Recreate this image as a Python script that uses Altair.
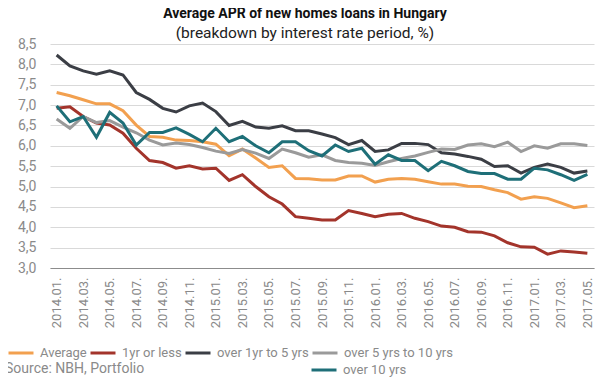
import altair as alt
import pandas as pd

months = [
    "2014.01.", "2014.02.", "2014.03.", "2014.04.", "2014.05.", "2014.06.",
    "2014.07.", "2014.08.", "2014.09.", "2014.10.", "2014.11.", "2014.12.",
    "2015.01.", "2015.02.", "2015.03.", "2015.04.", "2015.05.", "2015.06.",
    "2015.07.", "2015.08.", "2015.09.", "2015.10.", "2015.11.", "2015.12.",
    "2016.01.", "2016.02.", "2016.03.", "2016.04.", "2016.05.", "2016.06.",
    "2016.07.", "2016.08.", "2016.09.", "2016.10.", "2016.11.", "2016.12.",
    "2017.01.", "2017.02.", "2017.03.", "2017.04.", "2017.05.",
]
tick_months = months[::2]
y_ticks = [3.0, 3.5, 4.0, 4.5, 5.0, 5.5, 6.0, 6.5, 7.0, 7.5, 8.0, 8.5]

average = [7.31, 7.23, 7.13, 7.03, 7.03, 6.86, 6.51, 6.23, 6.21, 6.14, 6.13, 6.10,
           6.04, 5.76, 5.92, 5.70, 5.47, 5.51, 5.20, 5.19, 5.16, 5.16, 5.26, 5.26,
           5.11, 5.18, 5.20, 5.18, 5.12, 5.06, 5.06, 5.01, 5.00, 4.92, 4.85, 4.69,
           4.75, 4.71, 4.60, 4.48, 4.53]
upto1 = [6.92, 6.96, 6.72, 6.56, 6.51, 6.31, 5.94, 5.64, 5.59, 5.45, 5.51, 5.43,
         5.45, 5.15, 5.29, 5.00, 4.75, 4.57, 4.26, 4.22, 4.18, 4.18, 4.41, 4.34,
         4.26, 4.32, 4.34, 4.22, 4.14, 4.03, 4.00, 3.89, 3.88, 3.79, 3.62, 3.52,
         3.51, 3.34, 3.42, 3.39, 3.36]
y1to5 = [8.23, 7.96, 7.84, 7.76, 7.84, 7.74, 7.31, 7.14, 6.92, 6.83, 6.98, 7.05,
         6.84, 6.50, 6.60, 6.46, 6.43, 6.49, 6.37, 6.37, 6.29, 6.20, 6.03, 6.13,
         5.86, 5.90, 6.06, 6.06, 6.03, 5.83, 5.80, 5.74, 5.67, 5.49, 5.51, 5.33,
         5.47, 5.55, 5.47, 5.33, 5.38]
y5to10 = [6.66, 6.43, 6.72, 6.57, 6.62, 6.46, 6.32, 6.14, 6.02, 6.07, 6.03, 5.96,
          5.87, 5.81, 5.91, 5.82, 5.69, 5.92, 5.83, 5.72, 5.78, 5.64, 5.59, 5.57,
          5.52, 5.61, 5.69, 5.75, 5.84, 5.92, 5.91, 6.02, 6.05, 5.98, 6.09, 5.86,
          6.00, 5.94, 6.05, 6.05, 6.01]
over10 = [6.98, 6.59, 6.72, 6.21, 6.82, 6.56, 6.02, 6.33, 6.33, 6.44, 6.28, 6.10,
          6.43, 6.10, 6.23, 6.00, 5.83, 6.10, 6.10, 5.88, 5.75, 6.02, 5.86, 5.94,
          5.55, 5.78, 5.64, 5.64, 5.39, 5.62, 5.51, 5.37, 5.32, 5.32, 5.18, 5.18,
          5.45, 5.41, 5.29, 5.15, 5.30]

names_main = ["Average", "1yr or less", "over 1yr to 5 yrs", "over 5 yrs to 10 yrs"]
colors_main = ["#f2a04f", "#a3342b", "#3b3e45", "#9a9a9a"]
name_last = "over 10 yrs"
color_last = "#1e6f78"

rows = []
for name, vals in zip(names_main, [average, upto1, y1to5, y5to10]):
    for m, v in zip(months, vals):
        rows.append({"month": m, "value": v, "series": name})
df_main = pd.DataFrame(rows)
df_last = pd.DataFrame({"month": months, "value": over10, "series": name_last})

FONT = "Roboto"
GRAY = "#8a8a8a"

x_enc = alt.X("month:O", sort=months, title=None,
              axis=alt.Axis(values=tick_months, labelAngle=-90, labelFontSize=13,
                            labelColor=GRAY, labelFont=FONT, ticks=False,
                            domainColor="#8c8c8c", domainWidth=1.2, labelPadding=9,
                            grid=False))
y_enc = alt.Y("value:Q", title=None,
              scale=alt.Scale(domain=[3, 8.5], nice=False, zero=False),
              axis=alt.Axis(values=y_ticks, labelExpr="replace(format(datum.value, '.1f'), '.', ',')",
                            labelFontSize=14, labelColor=GRAY, labelFont=FONT,
                            ticks=False, domain=False, gridColor="#d9d9d9",
                            labelPadding=14, labelOverlap=False))

leg_common = dict(orient="none", direction="horizontal", title=None,
                  symbolType="stroke", symbolStrokeWidth=3, symbolSize=625,
                  labelFontSize=13, labelColor=GRAY, labelFont=FONT,
                  columnPadding=-3, labelOffset=5)

main = alt.Chart(df_main).mark_line(strokeWidth=3).encode(
    x=x_enc, y=y_enc,
    color=alt.Color("series:N", sort=names_main,
                    scale=alt.Scale(domain=names_main, range=colors_main),
                    legend=alt.Legend(legendX=-43, legendY=295, **leg_common)),
)
last = alt.Chart(df_last).mark_line(strokeWidth=3).encode(
    x=x_enc, y=y_enc,
    color=alt.Color("series:N",
                    scale=alt.Scale(domain=[name_last], range=[color_last]),
                    legend=alt.Legend(legendX=260, legendY=312, **leg_common)),
)
source = alt.Chart(pd.DataFrame({"t": ["Source: NBH, Portfolio"]})).mark_text(
    align="left", baseline="middle", fontSize=14, color=GRAY, font=FONT
).encode(x=alt.value(-45), y=alt.value(325), text="t:N")

chart = alt.layer(main, last, source).resolve_scale(color="independent").properties(
    width=544, height=224,
    padding={"left": 42, "top": 36, "right": 3, "bottom": 110},
    autosize="none",
    title=alt.TitleParams(
        text="Average APR of new homes loans in Hungary",
        subtitle="(breakdown by interest rate period, %)",
        font=FONT, fontSize=14, fontWeight="bold", color="#111111",
        subtitleFont=FONT, subtitleFontSize=15.5, subtitleColor="#222222",
        anchor="middle", dx=-17, offset=-4, subtitlePadding=5,
    ),
).configure_view(stroke=None)

chart.save("out.html", embed_options={"renderer": "svg", "actions": False})
